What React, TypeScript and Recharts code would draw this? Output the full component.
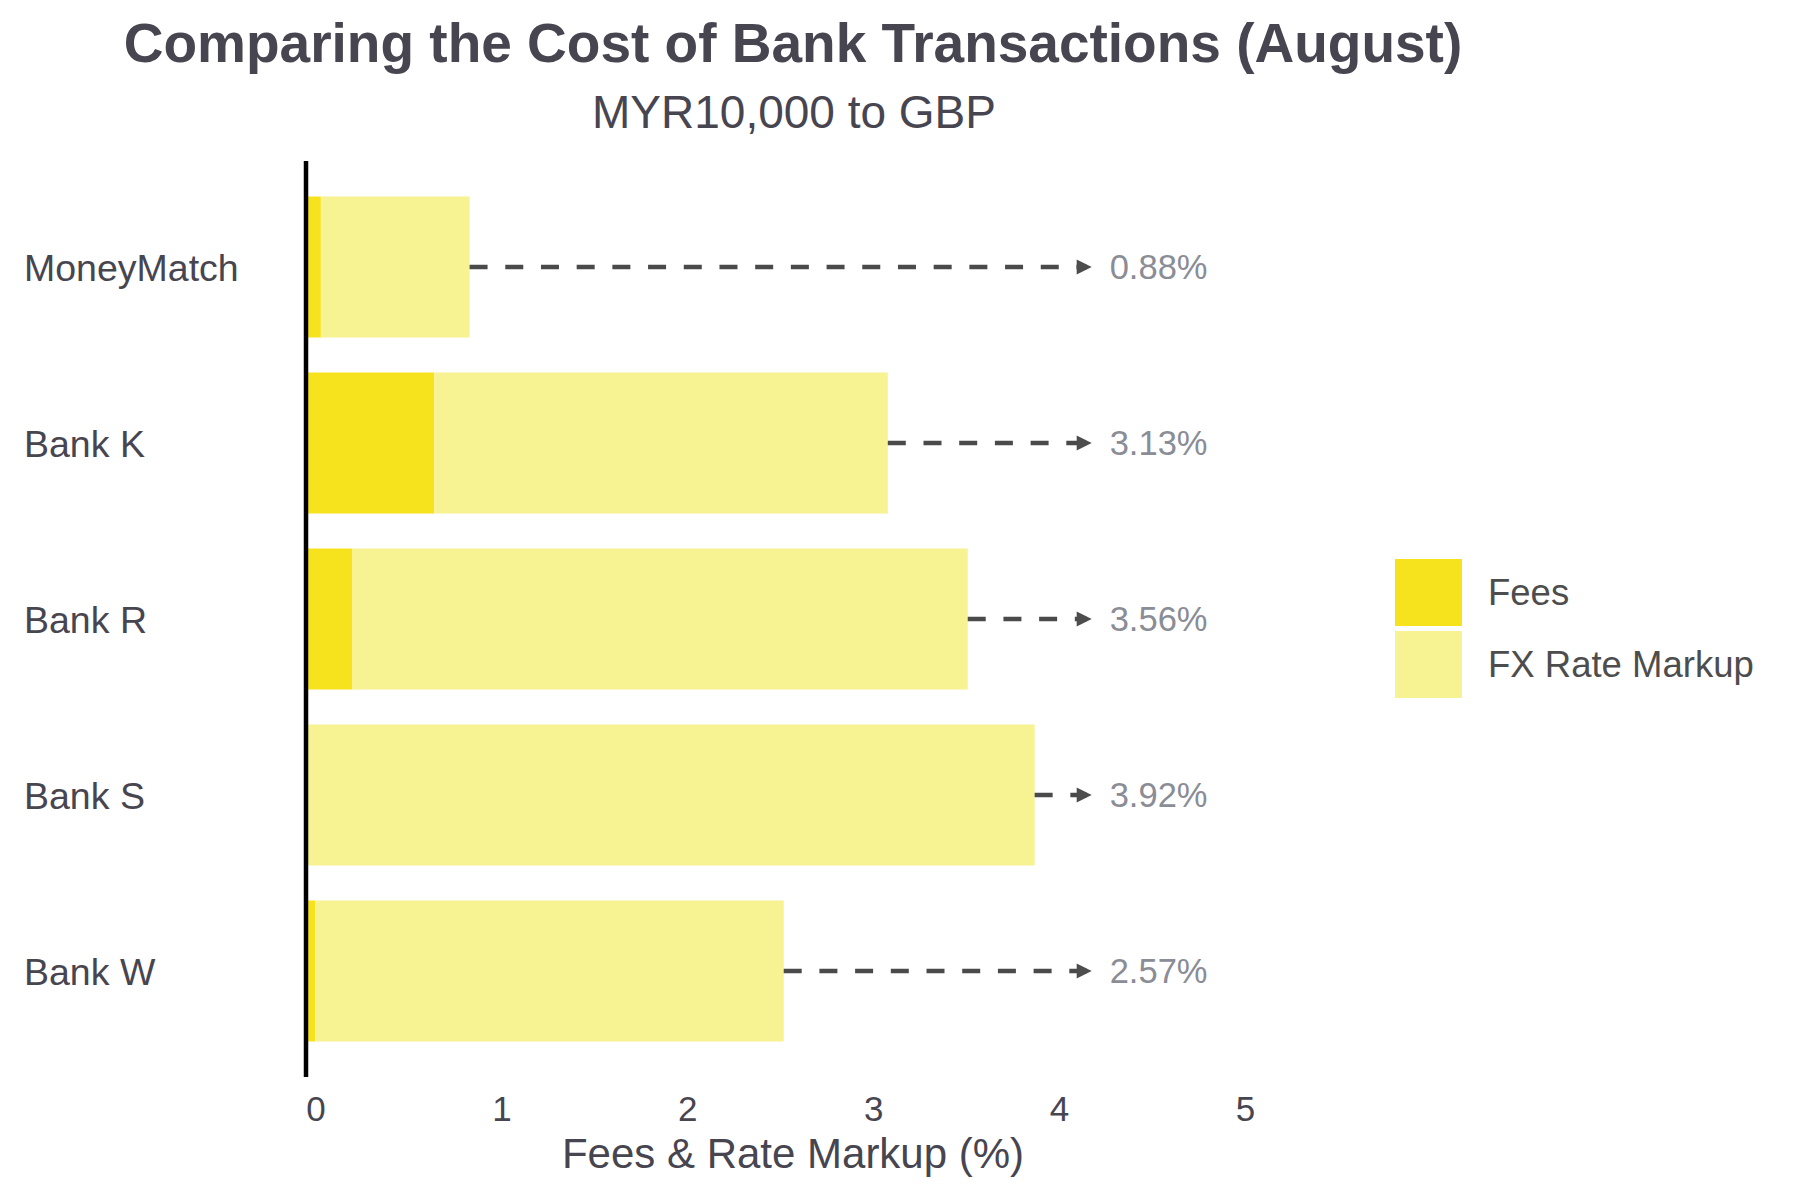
import React from 'react';
import {
  ComposedChart,
  Bar,
  XAxis,
  YAxis,
  ReferenceLine,
  Legend,
} from 'recharts';

const FONT = '"Liberation Sans", Arial, Helvetica, sans-serif';
const TEXT = '#47454f';

const banks = ['MoneyMatch', 'Bank K', 'Bank R', 'Bank S', 'Bank W'];
const fees = [0.08, 0.69, 0.25, 0, 0.05];
const fxMarkup = [0.8, 2.44, 3.31, 3.92, 2.52];
const totals = [0.88, 3.13, 3.56, 3.92, 2.57];
const xTicks = [0, 1, 2, 3, 4, 5];
const seriesNames = ['Fees', 'FX Rate Markup'];
const ARROW_END = 4.2;

const data = banks.map((bank, i) => ({
  bank,
  fees: fees[i],
  markup: fxMarkup[i],
  total: totals[i],
}));

const BankTick = (props: any) => {
  const { y, payload } = props;
  return (
    <text x={24} y={y} dy="0.36em" textAnchor="start" fontSize={37.5} fill={TEXT} fontFamily={FONT}>
      {payload.value}
    </text>
  );
};

const PctTick = (props: any) => {
  const { x, y, payload } = props;
  return (
    <text x={x + 10} y={y + 44} textAnchor="middle" fontSize={35} fill={TEXT} fontFamily={FONT}>
      {payload.value}
    </text>
  );
};

// arrow head + value label drawn at the end of each dashed segment
const renderArrow = (props: any, text: string) => {
  const { x, y, width } = props.viewBox;
  const tip = x + width + 5;
  return (
    <g>
      <polygon points={`${tip},${y} ${tip - 15},${y - 7.5} ${tip - 15},${y + 7.5}`} fill="#4d4d4d" />
      <text x={tip + 18} y={y} dy="0.36em" fontSize={34.5} fill="#8a8c96" fontFamily={FONT}>
        {text}
      </text>
    </g>
  );
};

const LegendBox = (props: any) => {
  const items = [...(props.payload || [])].sort(
    (a: any, b: any) => seriesNames.indexOf(a.value) - seriesNames.indexOf(b.value)
  );
  return (
    <div style={{ fontFamily: FONT }}>
      {items.map((entry: any) => (
        <div key={entry.value} style={{ display: 'flex', alignItems: 'center', height: 67, marginBottom: 5 }}>
          <div style={{ width: 67, height: 67, background: entry.color }} />
          <span style={{ marginLeft: 26, fontSize: 36.5, lineHeight: '67px', color: '#4d4d4d' }}>{entry.value}</span>
        </div>
      ))}
    </div>
  );
};

export default function App() {
  return (
    <div style={{ position: 'absolute', left: 0, top: 0, width: 1800, height: 1200, background: '#fff' }}>
      <ComposedChart
        width={1800}
        height={1200}
        data={data}
        layout="vertical"
        margin={{ top: 161, right: 520, bottom: 0, left: 24 }}
        barCategoryGap="10%"
      >
        <XAxis
          type="number"
          domain={[0, 5.24]}
          allowDataOverflow
          ticks={xTicks}
          axisLine={false}
          tickLine={false}
          tickSize={0}
          tickMargin={0}
          height={123}
          tick={<PctTick />}
          label={{
            value: 'Fees & Rate Markup (%)',
            position: 'insideBottom',
            offset: 32,
            fontSize: 42,
            fill: TEXT,
            fontFamily: FONT,
          }}
        />
        <YAxis
          type="category"
          dataKey="bank"
          width={282}
          axisLine={false}
          tickLine={false}
          tickSize={0}
          padding={{ top: 18, bottom: 18 }}
          tick={<BankTick />}
        />
        <Bar dataKey="fees" name={seriesNames[0]} stackId="a" fill="#f6e31e" isAnimationActive={false} />
        <Bar dataKey="markup" name={seriesNames[1]} stackId="a" fill="#f7f292" isAnimationActive={false} />
        {data.map((d) => (
          <ReferenceLine
            key={d.bank}
            segment={[
              { x: d.total, y: d.bank },
              { x: ARROW_END, y: d.bank },
            ]}
            stroke="#4a4a4a"
            strokeWidth={4.3}
            strokeDasharray="18 17.7"
            label={(p: any) => renderArrow(p, `${d.total.toFixed(2)}%`)}
          />
        ))}
        <ReferenceLine x={0} stroke="#000" strokeWidth={4.5} />
        <Legend
          layout="vertical"
          align="center"
          verticalAlign="middle"
          content={<LegendBox />}
          wrapperStyle={{ left: 1395, top: 559, width: 400 }}
        />
      </ComposedChart>
      <svg
        width={1800}
        height={160}
        style={{ position: 'absolute', left: 0, top: 0, pointerEvents: 'none' }}
      >
        <text x={793} y={62} textAnchor="middle" fontSize={55} fontWeight="bold" fill={TEXT} fontFamily={FONT}>
          Comparing the Cost of Bank Transactions (August)
        </text>
        <text x={794} y={128} textAnchor="middle" fontSize={46} fill={TEXT} fontFamily={FONT}>
          MYR10,000 to GBP
        </text>
      </svg>
    </div>
  );
}
